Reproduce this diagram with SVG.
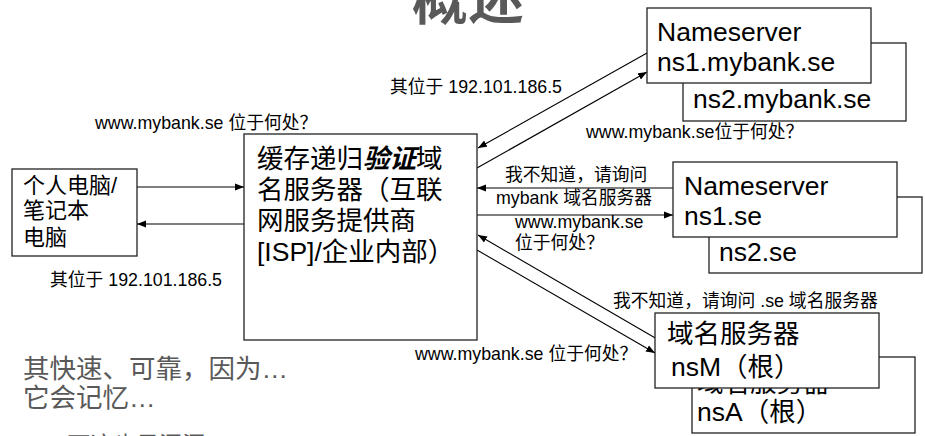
<svg xmlns="http://www.w3.org/2000/svg" width="925" height="436" viewBox="0 0 925 436">
<style>
text{font-family:"Liberation Sans","Noto Sans CJK SC",sans-serif;fill:#000}
.box{fill:#fff;stroke:#222;stroke-width:1.3}
.big{font-size:26.5px}
.mid{font-size:22px}
.lbl{font-size:17.8px}
.note{font-size:26.5px;fill:#595959}
.title{font-size:56px;font-weight:bold;fill:#595959}
.c{stroke:#000;stroke-width:1.1;fill:none;marker-end:url(#ah)}
</style>
<defs>
<marker id="ah" markerUnits="userSpaceOnUse" markerWidth="10" markerHeight="8" refX="9" refY="4" orient="auto">
<path d="M0,0.5 L9,4 L0,7.5 Z" fill="#000"/>
</marker>
</defs>
<rect width="925" height="436" fill="#fff"/>
<text class="title" x="468" y="19" text-anchor="middle">概述</text>

<g id="connectors">
<path class="c" d="M137,187 L244,187"/>
<path class="c" d="M244,224 L137,224"/>
<path class="c" d="M647,53 L478,148"/>
<path class="c" d="M477,168 L647,72"/>
<path class="c" d="M673,188 L477,188"/>
<path class="c" d="M477,215 L673,215"/>
<path class="c" d="M657,339 L478,235"/>
<path class="c" d="M477,250 L655,353"/>
</g>

<g id="labels">
<text class="lbl" x="390" y="93">其位于 192.101.186.5</text>
<text class="lbl" x="95" y="129">www.mybank.se 位于何处？</text>
<text class="lbl" x="586" y="138">www.mybank.se位于何处？</text>
<text class="lbl" x="50" y="286">其位于 192.101.186.5</text>
<text class="lbl" x="505" y="181">我不知道，请询问</text>
<text class="lbl" x="496" y="204">mybank 域名服务器</text>
<text class="lbl" x="515" y="228">www.mybank.se</text>
<text class="lbl" x="515" y="249">位于何处？</text>
<text class="lbl" x="613" y="307">我不知道，请询问 .se 域名服务器</text>
<text class="lbl" x="415" y="360">www.mybank.se 位于何处？</text>
</g>

<g id="pc">
<rect class="box" x="12" y="169" width="125" height="87"/>
<text class="mid" x="23" y="193">个人电脑/</text>
<text class="mid" x="23" y="218">笔记本</text>
<text class="mid" x="23" y="245">电脑</text>
</g>

<g id="resolver">
<rect class="box" x="244" y="134" width="233" height="206"/>
<text class="big" x="257" y="168">缓存递归<tspan font-weight="bold" font-style="italic">验证</tspan>域</text>
<text class="big" x="257" y="199">名服务器（互联</text>
<text class="big" x="257" y="230">网服务提供商</text>
<text class="big" x="257" y="261">[ISP]/企业内部）</text>
</g>

<g id="ns2-mybank">
<rect class="box" x="683" y="43" width="223" height="78"/>
<text class="big" x="693" y="108">ns2.mybank.se</text>
</g>
<g id="ns1-mybank">
<rect class="box" x="647" y="8" width="224" height="75"/>
<text class="big" x="657" y="41">Nameserver</text>
<text class="big" x="657" y="71">ns1.mybank.se</text>
</g>

<g id="ns2-se">
<rect class="box" x="709" y="197" width="213" height="76"/>
<text class="big" x="719" y="261">ns2.se</text>
</g>
<g id="ns1-se">
<rect class="box" x="673" y="162" width="224" height="75"/>
<text class="big" x="684" y="195">Nameserver</text>
<text class="big" x="684" y="225">ns1.se</text>
</g>

<g id="nsA">
<rect class="box" x="692" y="357" width="223" height="76"/>
<text class="big" x="697" y="392">域名服务器</text>
<text class="big" x="697" y="421">nsA（根）</text>
</g>
<g id="nsM">
<rect class="box" x="655" y="313" width="224" height="75"/>
<text class="big" x="667" y="343">域名服务器</text>
<text class="big" x="671" y="376">nsM（根）</text>
</g>

<g id="notes">
<text class="note" x="23" y="378">其快速、可靠，因为…</text>
<text class="note" x="23" y="407">它会记忆…</text>
<text class="note" x="48" y="453" style="font-size:23px">– 可这也是漏洞</text>
</g>
</svg>
